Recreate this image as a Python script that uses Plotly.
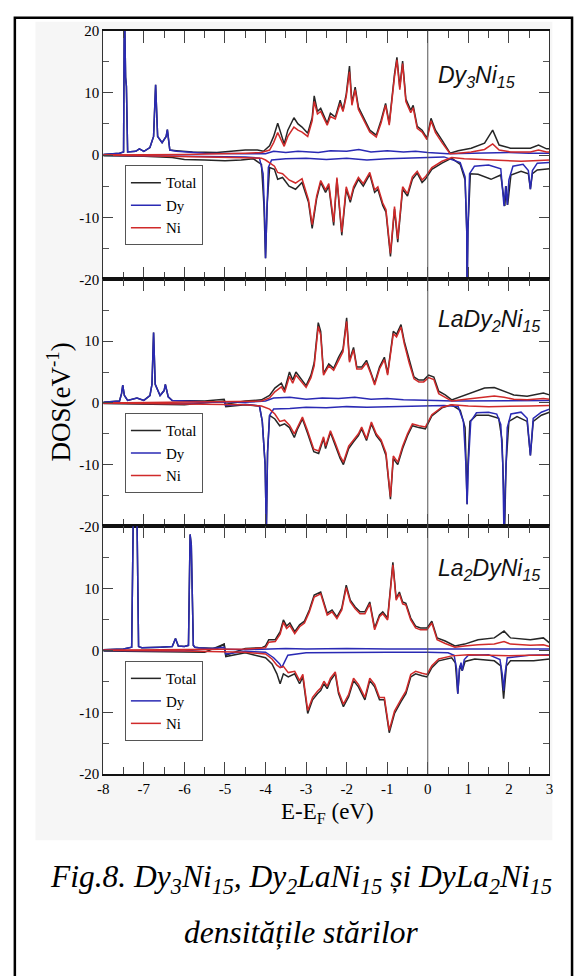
import plotly.graph_objects as go

W, H = 579, 976

# ---------------- data ----------------
E_TICKS = [-8, -7, -6, -5, -4, -3, -2, -1, 0, 1, 2, 3]
E_TICK_LABELS = ["-8", "-7", "-6", "-5", "-4", "-3", "-2", "-1", "0", "1", "2", "3"]
DOS_TICKS_TOP = [-20, -10, 0, 10, 20]
DOS_TICKS = [-20, -10, 0, 10]
SERIES_NAMES = ["Total", "Dy", "Ni"]
PANEL_LABELS = ["<i>Dy<sub>3</sub>Ni<sub>15</sub></i>",
                "<i>LaDy<sub>2</sub>Ni<sub>15</sub></i>",
                "<i>La<sub>2</sub>DyNi<sub>15</sub></i>"]

# Panel 1: Dy3Ni15
p1_tot_up_x = [-8.0, -7.6, -7.5, -7.48, -7.45, -7.43, -7.40, -7.2, -7.11, -7.0,
               -6.85, -6.76, -6.71, -6.66, -6.55, -6.45, -6.42, -6.36, -6.2, -5.8,
               -5.2, -4.8, -4.5, -4.2, -4.05, -3.9, -3.8, -3.7, -3.6, -3.54,
               -3.45, -3.3, -3.2, -3.1, -2.96, -2.85, -2.8, -2.72, -2.64, -2.48,
               -2.40, -2.28, -2.16, -2.09, -2.01, -1.93, -1.87, -1.79, -1.71, -1.59,
               -1.43, -1.27, -1.15, -1.04, -0.95, -0.82, -0.76, -0.69, -0.62, -0.54,
               -0.42, -0.36, -0.26, -0.14, -0.02, 0.08, 0.19, 0.35, 0.55, 0.75,
               1.07, 1.40, 1.60, 1.76, 2.04, 2.53, 2.73, 2.93, 3.0]
p1_tot_up_y = [0.1, 0.3, 0.5, 25, 12.5, 11, 0.5, 0.6, 1.0, 0.6,
               1.2, 3, 11.3, 3, 2, 3, 4.1, 0.8, 0.7, 0.5,
               0.4, 0.6, 0.8, 0.8, 0.6, 1.5, 3, 5.1, 2.8, 1.8,
               4, 6, 5, 4.5, 3.5, 6, 9.5, 7, 7.5, 5.1,
               6.7, 6.1, 8.8, 7.2, 9.8, 14.3, 8.3, 10.9, 7.7, 6.1,
               4, 3.2, 5.6, 8.3, 5.1, 13, 15.7, 10.9, 15.1, 9,
               7.2, 8, 4.6, 4, 2.7, 5.9, 4, 2.4, 0.3, 0.7,
               1.1, 1.9, 4, 1.6, 1.1, 1.1, 1.6, 1.0, 1.0]
p1_ni_up_x = [-8.0, -6.0, -4.5, -4.1, -3.9, -3.8, -3.7, -3.6, -3.54, -3.45,
              -3.3, -3.2, -3.1, -2.96, -2.85, -2.8, -2.72, -2.64, -2.48, -2.40,
              -2.28, -2.16, -2.09, -2.01, -1.93, -1.87, -1.79, -1.71, -1.59, -1.43,
              -1.27, -1.15, -1.04, -0.95, -0.82, -0.76, -0.69, -0.62, -0.54, -0.42,
              -0.36, -0.26, -0.14, -0.02, 0.08, 0.19, 0.35, 0.55, 0.75, 1.07,
              1.40, 1.60, 1.76, 2.04, 2.53, 2.73, 2.93, 3.0]
p1_ni_up_y = [0.0, 0.1, 0.3, 0.4, 0.8, 2.0, 3.6, 2.2, 1.4, 3.0,
              4.5, 4.0, 3.7, 3.0, 5.5, 8.6, 6.6, 7.0, 4.8, 6.2,
              5.8, 8.3, 7.0, 9.4, 13.4, 8.0, 10.5, 7.3, 5.7, 3.7,
              2.9, 5.2, 8.0, 4.8, 12.6, 15.3, 10.5, 14.7, 8.6, 6.8,
              7.6, 4.3, 3.7, 2.5, 5.5, 3.6, 2.0, 0.2, 0.3, 0.5,
              0.9, 1.8, 0.8, 0.5, 0.5, 0.8, 0.5, 0.5]
p1_dy_up_x = [-8.0, -7.6, -7.5, -7.48, -7.45, -7.43, -7.40, -7.2, -7.11, -7.0,
              -6.85, -6.76, -6.71, -6.66, -6.55, -6.45, -6.42, -6.36, -6.2, -5.5,
              -4.5, -4.0, -3.8, -3.5, -3.2, -3.0, -2.7, -2.4, -2.0, -1.7,
              -1.4, -1.0, -0.6, -0.3, 0.0, 0.5, 1.0, 1.5, 2.0, 2.5, 3.0]
p1_dy_up_y = [0.1, 0.3, 0.5, 25, 12.5, 11, 0.5, 0.6, 1.0, 0.6,
              1.2, 3, 11.3, 3, 2, 3, 4.1, 0.8, 0.6, 0.3,
              0.2, 0.2, 0.6, 0.4, 0.6, 0.5, 0.4, 0.7, 0.6, 0.9,
              0.5, 0.7, 0.5, 0.6, 0.4, 0.2, 0.3, 0.4, 0.4, 0.3, 0.3]
p1_tot_dn_x = [-8.0, -7.0, -6.3, -6.0, -5.5, -5.0, -4.6, -4.3, -4.1, -4.04,
               -4.0, -3.96, -3.9, -3.78, -3.70, -3.58, -3.42, -3.26, -3.10, -2.94,
               -2.85, -2.74, -2.64, -2.52, -2.44, -2.32, -2.24, -2.12, -2.01, -1.91,
               -1.83, -1.71, -1.59, -1.43, -1.31, -1.23, -1.11, -1.03, -0.92, -0.82,
               -0.74, -0.62, -0.50, -0.38, -0.26, -0.14, -0.06, 0.10, 0.35, 0.59,
               0.80, 0.92, 0.96, 0.97, 0.99, 1.05, 1.24, 1.56, 1.80, 1.86,
               1.90, 1.93, 1.97, 2.05, 2.30, 2.48, 2.53, 2.58, 2.70, 3.0]
p1_tot_dn_y = [-0.1, -0.2, -0.4, -0.7, -0.8, -0.9, -0.8, -0.6, -1.5, -8,
               -16.6, -8, -2, -2.3, -3.9, -3.6, -5, -5.5, -4.4, -7.6,
               -11.8, -7, -4.4, -6, -5, -11.3, -3.9, -12.9, -5.5, -7.6,
               -5.5, -3.9, -5, -3.1, -6, -5.5, -8.1, -9.2, -16.3, -8.7,
               -14, -5.5, -6.6, -3.9, -2.9, -4.4, -3.9, -2.3, -1.3, -0.5,
               -1.5, -4, -12, -22, -12, -3, -3.1, -3.9, -3.2, -6,
               -8.2, -5, -8, -3.2, -2.6, -3, -5.5, -3, -2.4, -2.2]
p1_ni_dn_x = [-8.0, -6.0, -4.5, -4.1, -4.0, -3.9, -3.78, -3.70, -3.58, -3.42,
              -3.26, -3.10, -2.94, -2.85, -2.74, -2.64, -2.52, -2.44, -2.32, -2.24,
              -2.12, -2.01, -1.91, -1.83, -1.71, -1.59, -1.43, -1.31, -1.23, -1.11,
              -1.03, -0.92, -0.82, -0.74, -0.62, -0.50, -0.38, -0.26, -0.14, -0.06,
              0.10, 0.35, 0.59, 0.9, 1.2, 1.6, 1.9, 2.3, 2.6, 3.0]
p1_ni_dn_y = [0.0, -0.3, -0.5, -0.5, -0.8, -1.2, -1.8, -2.8, -3.0, -4.0,
              -4.5, -3.8, -7.2, -11.2, -6.6, -4.1, -5.6, -4.6, -10.8, -3.6,
              -12.4, -5.1, -7.2, -5.1, -3.6, -4.6, -2.8, -5.6, -5.1, -7.7,
              -8.8, -15.8, -8.3, -13.5, -5.1, -6.2, -3.5, -2.6, -4.0, -3.5,
              -2.0, -1.0, -0.4, -0.6, -0.7, -0.8, -0.9, -1.0, -0.9, -0.8]
p1_dy_dn_x = [-8.0, -6.0, -4.5, -4.15, -4.06, -4.02, -4.0, -3.97, -3.93, -3.85,
              -3.5, -3.0, -2.5, -2.0, -1.5, -1.0, -0.5, 0.0, 0.4, 0.8,
              0.92, 0.96, 0.97, 0.99, 1.03, 1.15, 1.5, 1.8, 1.86, 1.88,
              1.92, 1.96, 2.0, 2.1, 2.35, 2.48, 2.53, 2.58, 2.7, 3.0]
p1_dy_dn_y = [-0.05, -0.2, -0.3, -0.5, -3, -10, -16.6, -10, -2, -0.8,
              -0.6, -0.5, -0.7, -0.5, -0.8, -0.6, -0.5, -0.4, -0.3, -1.2,
              -3.5, -12, -22, -12, -3, -1.8, -1.6, -2.2, -6, -8.2,
              -5, -8, -4, -1.8, -1.5, -2.5, -5.5, -2.5, -1.3, -1.2]

# Panel 2: LaDy2Ni15
p2_tot_up_x = [-8.0, -7.6, -7.55, -7.52, -7.48, -7.4, -7.17, -7.0, -6.85, -6.8,
               -6.76, -6.72, -6.6, -6.5, -6.47, -6.4, -6.3, -5.5, -5.02, -4.98,
               -4.5, -4.1, -3.9, -3.77, -3.61, -3.53, -3.41, -3.33, -3.25, -3.09,
               -3.0, -2.88, -2.8, -2.7, -2.64, -2.57, -2.44, -2.32, -2.20, -2.09,
               -2.00, -1.93, -1.83, -1.75, -1.63, -1.51, -1.39, -1.31, -1.19, -1.07,
               -0.99, -0.85, -0.77, -0.66, -0.58, -0.46, -0.34, -0.22, -0.10, 0.02,
               0.15, 0.27, 0.43, 0.59, 0.83, 1.07, 1.40, 1.64, 1.88, 2.12,
               2.45, 2.85, 3.0]
p2_tot_up_y = [0.1, 0.3, 1.5, 2.9, 1.2, 0.4, 0.8, 0.4, 1.2, 3,
               11.4, 3, 1.2, 2, 3, 1, 0.4, 0.3, 0.6, -0.2,
               0.3, 0.5, 1.2, 2.4, 3.2, 2.1, 5, 3.7, 5, 3.7,
               2.8, 4.5, 6.5, 13, 11.6, 4.8, 6.3, 5.6, 7.4, 8.7,
               13.8, 6.9, 9, 5.8, 5.8, 6.9, 4.8, 3.2, 5.8, 7.4,
               4.8, 11.6, 11.1, 12.7, 10, 6.9, 4.2, 3.7, 3.7, 4.5,
               4.2, 1.9, 1.3, 0.5, 1.1, 1.6, 2.4, 2.5, 1.9, 1.3,
               1.1, 1.6, 1.3]
p2_ni_up_x = [-8.0, -6.0, -4.5, -4.1, -3.9, -3.77, -3.61, -3.53, -3.41, -3.33,
              -3.25, -3.09, -3.0, -2.88, -2.8, -2.7, -2.64, -2.57, -2.44, -2.32,
              -2.20, -2.09, -2.00, -1.93, -1.83, -1.75, -1.63, -1.51, -1.39, -1.31,
              -1.19, -1.07, -0.99, -0.85, -0.77, -0.66, -0.58, -0.46, -0.34, -0.22,
              -0.10, 0.02, 0.15, 0.27, 0.43, 0.59, 0.83, 1.07, 1.40, 1.64,
              1.88, 2.12, 2.45, 2.85, 3.0]
p2_ni_up_y = [0, 0.1, 0.2, 0.3, 0.8, 1.8, 2.6, 1.7, 4.3, 3.2,
              4.5, 3.3, 2.5, 4.1, 6, 12.4, 11, 4.5, 6, 5.3,
              7, 8.3, 13.2, 6.6, 8.6, 5.5, 5.5, 6.5, 4.5, 2.9,
              5.5, 7, 4.5, 11.2, 10.7, 12.3, 9.6, 6.5, 3.9, 3.4,
              3.4, 4.1, 3.8, 1.5, 0.9, 0.3, 0.5, 0.7, 1.0, 1.1,
              0.9, 0.6, 0.5, 0.7, 0.6]
p2_dy_up_x = [-8.0, -7.6, -7.55, -7.52, -7.48, -7.4, -7.17, -7.0, -6.85, -6.8,
              -6.76, -6.72, -6.6, -6.5, -6.47, -6.4, -6.3, -5.5, -4.5, -4.0,
              -3.8, -3.4, -3.0, -2.6, -2.2, -1.8, -1.4, -1.0, -0.6, -0.2,
              0.2, 0.6, 1.0, 1.5, 2.0, 2.5, 3.0]
p2_dy_up_y = [0.1, 0.3, 1.5, 2.9, 1.2, 0.4, 0.8, 0.4, 1.2, 3,
              11.4, 3, 1.2, 2, 3, 1, 0.4, 0.2, 0.1, 0.3,
              0.8, 0.9, 0.6, 0.8, 0.7, 0.9, 0.6, 0.7, 0.5, 0.5,
              0.4, 0.3, 0.3, 0.4, 0.4, 0.3, 0.4]
p2_tot_dn_x = [-8.0, -6.5, -6.0, -5.02, -4.98, -4.5, -4.15, -4.08, -4.04, -4.01,
               -3.98, -3.95, -3.9, -3.77, -3.65, -3.53, -3.41, -3.29, -3.21, -3.09,
               -2.97, -2.81, -2.69, -2.57, -2.52, -2.40, -2.28, -2.16, -2.08, -1.95,
               -1.83, -1.71, -1.63, -1.51, -1.39, -1.27, -1.15, -1.03, -0.92, -0.85,
               -0.74, -0.62, -0.50, -0.38, -0.22, -0.06, 0.10, 0.35, 0.59, 0.80,
               0.92, 0.96, 0.97, 0.99, 1.04, 1.20, 1.50, 1.75, 1.83, 1.87,
               1.89, 1.93, 2.00, 2.20, 2.45, 2.53, 2.60, 2.80, 3.0]
p2_tot_dn_y = [-0.1, -0.2, -0.3, 0.3, -0.6, -0.3, -0.5, -3, -8, -10,
               -21, -8, -2, -2.6, -3.7, -3.4, -4, -5.6, -4.2, -2.6,
               -4.8, -7.9, -8.2, -5.8, -7.4, -4.8, -6.9, -9, -10, -7.4,
               -6.3, -5.3, -4.2, -6.1, -3.4, -5.3, -6.3, -8.5, -15.6, -9,
               -10, -7.4, -5.3, -3.7, -4, -4.2, -2.1, -0.8, -0.3, -1.2,
               -4, -12, -16.4, -10, -3, -2, -2, -2.5, -6, -14,
               -22, -10, -3, -2.2, -3, -8.5, -3, -2, -1.5]
p2_ni_dn_x = [-8.0, -6.0, -4.5, -4.1, -3.9, -3.77, -3.65, -3.53, -3.41, -3.29,
              -3.21, -3.09, -2.97, -2.81, -2.69, -2.57, -2.52, -2.40, -2.28, -2.16,
              -2.08, -1.95, -1.83, -1.71, -1.63, -1.51, -1.39, -1.27, -1.15, -1.03,
              -0.92, -0.85, -0.74, -0.62, -0.50, -0.38, -0.22, -0.06, 0.10, 0.35,
              0.59, 1.0, 1.5, 2.0, 2.5, 3.0]
p2_ni_dn_y = [0, -0.2, -0.3, -0.5, -1, -1.8, -3, -2.8, -3.6, -5,
              -3.8, -2.3, -4.4, -7.5, -7.8, -5.5, -7, -4.5, -6.5, -8.6,
              -9.6, -7, -6, -5, -3.9, -5.8, -3.1, -5, -6, -8.1,
              -15.2, -8.6, -9.6, -7, -5, -3.4, -3.7, -3.9, -1.9, -0.7,
              -0.3, -0.5, -0.6, -0.6, -0.5, -0.4]
p2_dy_dn_x = [-8.0, -6.0, -5.02, -4.98, -4.5, -4.15, -4.08, -4.04, -4.01, -3.98,
              -3.95, -3.9, -3.8, -3.4, -3.0, -2.5, -2.0, -1.5, -1.0, -0.5,
              0.0, 0.4, 0.75, 0.88, 0.94, 0.97, 1.0, 1.06, 1.2, 1.5,
              1.7, 1.8, 1.85, 1.88, 1.91, 1.96, 2.05, 2.3, 2.45, 2.53,
              2.6, 2.8, 3.0]
p2_dy_dn_y = [-0.05, -0.1, 0.2, -0.4, -0.2, -0.5, -3, -8, -10, -21,
              -8, -2, -1, -0.9, -0.7, -0.8, -0.6, -0.7, -0.6, -0.5,
              -0.5, -0.4, -0.6, -3, -10, -16.4, -10, -3, -1.6, -1.5,
              -1.8, -3.5, -10, -22, -14, -4, -1.8, -1.5, -2.5, -8.5,
              -2.5, -1.5, -1.0]

# Panel 3: La2DyNi15
p3_tot_up_x = [-8.0, -7.5, -7.3, -7.26, -7.23, -7.17, -7.13, -7.05, -6.6, -6.3,
               -6.22, -6.15, -6.0, -5.9, -5.86, -5.83, -5.78, -5.74, -5.65, -5.2,
               -5.02, -4.98, -4.5, -4.1, -4.0, -3.92, -3.76, -3.64, -3.56, -3.48,
               -3.40, -3.28, -3.16, -3.04, -2.92, -2.80, -2.64, -2.56, -2.48, -2.36,
               -2.24, -2.12, -2.01, -1.91, -1.79, -1.67, -1.55, -1.43, -1.31, -1.19,
               -1.11, -0.99, -0.86, -0.78, -0.70, -0.62, -0.54, -0.42, -0.30, -0.18,
               -0.02, 0.10, 0.23, 0.43, 0.67, 0.91, 1.24, 1.64, 1.88, 2.04,
               2.53, 2.85, 3.0]
p3_tot_up_y = [0.1, 0.2, 0.5, 22, 22, 22, 0.6, 0.4, 0.5, 0.6,
               1.9, 0.7, 0.6, 0.8, 18.7, 17, 0.8, 0.5, 0.4, 0.3,
               1.0, -0.8, 0.3, 0.4, 0.7, 1.7, 1.7, 3.0, 4.9, 3.9,
               4.4, 3.0, 4.1, 4.7, 6.5, 8.9, 9.4, 7.8, 6.0, 6.5,
               5.4, 6.8, 10.5, 8.1, 7.0, 6.2, 6.2, 7.8, 3.6, 5.7,
               6.2, 5.2, 14.2, 8.4, 9.4, 7.8, 7.6, 5.2, 3.9, 3.6,
               3.6, 4.7, 2.0, 1.5, 0.7, 1.0, 1.7, 2.0, 3.1, 2.0,
               1.7, 2.0, 1.2]
p3_ni_up_x = [-8.0, -6.0, -4.5, -4.0, -3.92, -3.76, -3.64, -3.56, -3.48, -3.40,
              -3.28, -3.16, -3.04, -2.92, -2.80, -2.64, -2.56, -2.48, -2.36, -2.24,
              -2.12, -2.01, -1.91, -1.79, -1.67, -1.55, -1.43, -1.31, -1.19, -1.11,
              -0.99, -0.86, -0.78, -0.70, -0.62, -0.54, -0.42, -0.30, -0.18, -0.02,
              0.10, 0.23, 0.43, 0.67, 0.91, 1.24, 1.64, 1.88, 2.04, 2.53,
              2.85, 3.0]
p3_ni_up_y = [0, 0.1, 0.2, 0.4, 1.3, 1.4, 2.6, 4.5, 3.5, 4.0,
              2.7, 3.8, 4.4, 6.2, 8.6, 9.1, 7.5, 5.7, 6.2, 5.1,
              6.5, 10.1, 7.8, 6.7, 5.9, 5.9, 7.5, 3.3, 5.4, 5.9,
              4.9, 13.8, 8.1, 9.1, 7.5, 7.3, 4.9, 3.6, 3.3, 3.3,
              4.4, 1.7, 1.1, 0.5, 0.7, 0.9, 1.0, 1.4, 1.0, 0.8,
              0.9, 0.6]
p3_dy_up_x = [-8.0, -7.5, -7.3, -7.26, -7.23, -7.17, -7.13, -7.05, -6.6, -6.3,
              -6.22, -6.15, -6.0, -5.9, -5.86, -5.83, -5.78, -5.74, -5.65, -5.2,
              -4.5, -4.0, -3.5, -3.0, -2.0, -1.0, 0.0, 1.0, 2.0, 3.0]
p3_dy_up_y = [0.1, 0.2, 0.5, 22, 22, 22, 0.6, 0.4, 0.5, 0.6,
              1.9, 0.7, 0.6, 0.8, 18.7, 17, 0.8, 0.5, 0.4, 0.2,
              0.1, 0.2, 0.3, 0.2, 0.3, 0.2, 0.2, 0.2, 0.3, 0.2]
p3_tot_dn_x = [-8.0, -6.5, -5.5, -5.02, -4.98, -4.5, -4.0, -3.84, -3.72, -3.64,
               -3.56, -3.44, -3.28, -3.16, -3.08, -2.96, -2.84, -2.72, -2.64, -2.56,
               -2.48, -2.40, -2.28, -2.20, -2.08, -1.95, -1.83, -1.71, -1.55, -1.43,
               -1.31, -1.19, -1.07, -0.95, -0.82, -0.66, -0.54, -0.42, -0.30, -0.14,
               -0.02, 0.10, 0.27, 0.59, 0.68, 0.74, 0.79, 0.85, 0.92, 1.16,
               1.64, 1.80, 1.87, 1.94, 2.04, 2.61, 3.0]
p3_tot_dn_y = [-0.1, -0.2, -0.3, 1.0, -1.0, -0.4, -1.2, -2.2, -3.8, -5.4,
               -3.8, -4.3, -3.8, -5.4, -4.3, -10.2, -8.0, -7.0, -6.5, -5.4,
               -6.2, -4.9, -3.8, -7.0, -9.1, -7.5, -4.9, -5.9, -8.0, -4.9,
               -5.9, -8.0, -8.0, -13.3, -10.2, -8.3, -7.0, -4.3, -3.8, -4.1,
               -4.3, -2.8, -1.7, -1.2, -2.0, -7.0, -2.5, -3.3, -1.8, -1.4,
               -1.7, -2.5, -7.8, -2.5, -1.7, -1.7, -1.4]
p3_ni_dn_x = [-8.0, -6.0, -4.5, -4.0, -3.84, -3.72, -3.64, -3.56, -3.44, -3.28,
              -3.16, -3.08, -2.96, -2.84, -2.72, -2.64, -2.56, -2.48, -2.40, -2.28,
              -2.20, -2.08, -1.95, -1.83, -1.71, -1.55, -1.43, -1.31, -1.19, -1.07,
              -0.95, -0.82, -0.66, -0.54, -0.42, -0.30, -0.14, -0.02, 0.10, 0.27,
              0.59, 1.0, 1.5, 2.0, 2.5, 3.0]
p3_ni_dn_y = [0, -0.1, -0.3, -0.6, -1.4, -2.4, -2.8, -2.6, -3.6, -3.4,
              -4.9, -3.9, -9.7, -7.6, -6.6, -6.1, -5.0, -5.8, -4.5, -3.5,
              -6.6, -8.7, -7.1, -4.5, -5.5, -7.6, -4.5, -5.5, -7.6, -7.6,
              -12.9, -9.8, -7.9, -6.6, -3.9, -3.4, -3.7, -3.9, -2.5, -1.4,
              -0.9, -0.7, -0.8, -0.9, -0.8, -0.8]
p3_dy_dn_x = [-8.0, -6.0, -5.02, -4.98, -4.5, -4.0, -3.8, -3.65, -3.6, -3.55,
              -3.45, -3.0, -2.0, -1.0, 0.0, 0.5, 0.65, 0.71, 0.74, 0.78,
              0.82, 0.85, 0.9, 1.0, 1.5, 1.78, 1.84, 1.87, 1.9, 1.96,
              2.5, 3.0]
p3_dy_dn_y = [-0.05, -0.1, 0.5, -0.6, -0.2, -0.3, -1.2, -2.2, -2.8, -2.2,
              -0.8, -0.4, -0.3, -0.3, -0.3, -0.4, -0.8, -3.0, -7.0, -3.0,
              -2.0, -3.3, -1.5, -0.8, -0.7, -1.5, -4.0, -6.5, -4.0, -1.2,
              -0.8, -0.7]

# ---------------- figure ----------------
SERIF = "Liberation Serif"
SANS = "Liberation Sans"
COLORS = {"Total": "#262626", "Dy": "#2a2ab4", "Ni": "#d02a2a"}


def fx(px):
    return px / W


def fy(py):
    return 1 - py / H


PLOT_L, PLOT_R = 99, 553
PANEL_PX = [(23, 276), (276, 527), (527, 779)]
LEGEND_TOP = [160, 412, 664]
LABEL_Y = [70, 318, 571]

panels = [
    {"Total": ((p1_tot_up_x, p1_tot_up_y), (p1_tot_dn_x, p1_tot_dn_y)),
     "Dy": ((p1_dy_up_x, p1_dy_up_y), (p1_dy_dn_x, p1_dy_dn_y)),
     "Ni": ((p1_ni_up_x, p1_ni_up_y), (p1_ni_dn_x, p1_ni_dn_y))},
    {"Total": ((p2_tot_up_x, p2_tot_up_y), (p2_tot_dn_x, p2_tot_dn_y)),
     "Dy": ((p2_dy_up_x, p2_dy_up_y), (p2_dy_dn_x, p2_dy_dn_y)),
     "Ni": ((p2_ni_up_x, p2_ni_up_y), (p2_ni_dn_x, p2_ni_dn_y))},
    {"Total": ((p3_tot_up_x, p3_tot_up_y), (p3_tot_dn_x, p3_tot_dn_y)),
     "Dy": ((p3_dy_up_x, p3_dy_up_y), (p3_dy_dn_x, p3_dy_dn_y)),
     "Ni": ((p3_ni_up_x, p3_ni_up_y), (p3_ni_dn_x, p3_ni_dn_y))},
]

fig = go.Figure()
layout = {}
shapes = []
annotations = []

# light backdrop of the pasted plot image
shapes.append(dict(type="rect", xref="paper", yref="paper", layer="below",
                   x0=fx(30), x1=fx(556), y0=fy(846), y1=fy(14),
                   fillcolor="#f6f6f6", line=dict(width=0)))

for i, panel in enumerate(panels):
    n = i + 1
    sfx = "" if n == 1 else str(n)
    leg = "legend" if n == 1 else f"legend{n}"
    for name in SERIES_NAMES:
        (ux, uy), (dx, dy) = panel[name]
        assert len(ux) == len(uy) and len(dx) == len(dy), (n, name)
        for k, (xs, ys) in enumerate(((ux, uy), (dx, dy))):
            fig.add_trace(go.Scatter(
                x=xs, y=ys, mode="lines", name=name,
                line=dict(color=COLORS[name], width=1.5),
                xaxis=f"x{sfx}", yaxis=f"y{sfx}",
                legend=leg, showlegend=(k == 0), legendgroup=f"{name}{n}",
                hoverinfo="skip"))

    top, bot = PANEL_PX[i]
    # white plotting area over the backdrop
    shapes.append(dict(type="rect", xref=f"x{sfx} domain", yref=f"y{sfx} domain",
                       layer="below", x0=0, x1=1, y0=0, y1=1,
                       fillcolor="white", line=dict(width=0)))
    layout[f"xaxis{sfx}"] = dict(
        domain=[fx(PLOT_L), fx(PLOT_R)], anchor=f"y{sfx}",
        range=[-8, 3], tickmode="array", tickvals=E_TICKS,
        ticktext=E_TICK_LABELS, showticklabels=(n == 3),
        ticks="inside", ticklen=12, tickwidth=1, tickcolor="#444",
        minor=dict(ticks="inside", ticklen=7, dtick=0.5, tick0=-8,
                   tickcolor="#444", tickwidth=1),
        showline=True, linecolor="#111", linewidth=2, mirror="ticks",
        showgrid=False, zeroline=False,
        tickfont=dict(family=SERIF, size=15, color="black"))
    layout[f"yaxis{sfx}"] = dict(
        domain=[fy(bot), fy(top)], anchor=f"x{sfx}",
        range=[-20, 20], tickmode="array",
        tickvals=DOS_TICKS_TOP if n == 1 else DOS_TICKS,
        ticktext=[str(v) for v in (DOS_TICKS_TOP if n == 1 else DOS_TICKS)],
        ticks="inside", ticklen=10, tickwidth=1, tickcolor="#444",
        minor=dict(ticks="inside", ticklen=6, dtick=5, tick0=0,
                   tickcolor="#555", tickwidth=1),
        showline=True, linecolor="#333", linewidth=1.2, mirror="ticks",
        showgrid=False, zeroline=False,
        tickfont=dict(family=SERIF, size=15, color="black"))
    layout[leg] = dict(
        x=fx(121), y=fy(LEGEND_TOP[i]), xanchor="left", yanchor="top",
        bgcolor="white", bordercolor="#555", borderwidth=1,
        font=dict(family=SERIF, size=15, color="black"),
        itemwidth=30, tracegroupgap=0, traceorder="normal")

    shapes.append(dict(type="line", xref=f"x{sfx}", yref=f"y{sfx} domain",
                       x0=0, x1=0, y0=0, y1=1,
                       line=dict(color="#555", width=1)))
    annotations.append(dict(
        text=PANEL_LABELS[i], x=fx(438), y=fy(LABEL_Y[i]),
        xref="paper", yref="paper", xanchor="left", yanchor="middle",
        showarrow=False, font=dict(family=SANS, size=23, color="#111")))

# outer frame
shapes.append(dict(type="rect", xref="paper", yref="paper",
                   x0=fx(9), x1=fx(576), y0=fy(1000), y1=fy(10),
                   line=dict(color="black", width=2.5)))

annotations += [
    dict(text="DOS(eV<sup>-1</sup>)", x=fx(54), y=fy(401), textangle=-90,
         xref="paper", yref="paper", xanchor="center", yanchor="middle",
         showarrow=False, font=dict(family=SERIF, size=27, color="black")),
    dict(text="E-E<sub>F</sub> (eV)", x=fx(327), y=fy(818),
         xref="paper", yref="paper", xanchor="center", yanchor="middle",
         showarrow=False, font=dict(family=SERIF, size=23, color="black")),
    dict(text="<i>Fig.8. Dy<sub>3</sub>Ni<sub>15</sub>, Dy<sub>2</sub>LaNi<sub>15</sub>"
              " și DyLa<sub>2</sub>Ni<sub>15</sub></i>",
         x=fx(300), y=fy(886), xref="paper", yref="paper",
         xanchor="center", yanchor="middle", showarrow=False,
         font=dict(family=SERIF, size=31.5, color="black")),
    dict(text="<i>densitățile stărilor</i>", x=fx(300), y=fy(940),
         xref="paper", yref="paper", xanchor="center", yanchor="middle",
         showarrow=False, font=dict(family=SERIF, size=31.5, color="black")),
]

fig.update_layout(
    width=W, height=H, margin=dict(l=0, r=0, t=0, b=0),
    paper_bgcolor="white", plot_bgcolor="white",
    showlegend=True, shapes=shapes, annotations=annotations, **layout)

fig.write_html("out.html")
